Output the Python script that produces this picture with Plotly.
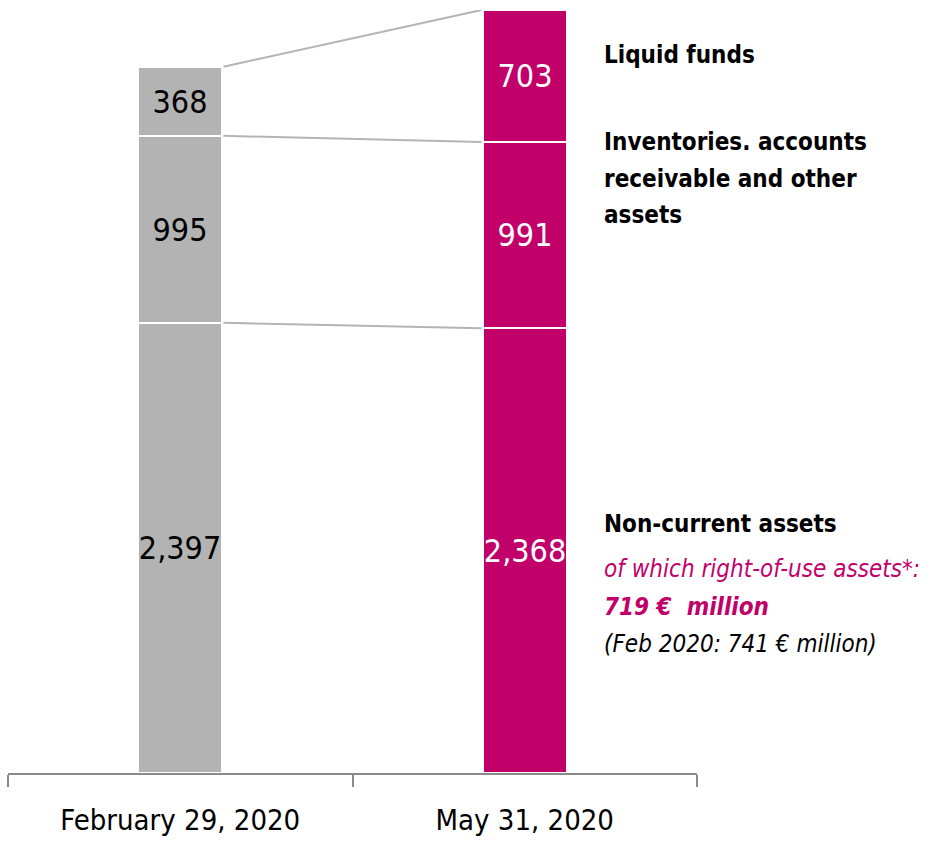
import plotly.graph_objects as go

categories = ["February 29, 2020", "May 31, 2020"]
non_current = [2397, 2368]
inventories = [995, 991]
liquid = [368, 703]

bar_colors = ["#b3b3b3", "#c2006a"]
text_colors = ["#000000", "#ffffff"]
FONT = "DejaVu Sans Condensed, Liberation Sans Narrow, sans-serif"
BAR_W = 0.245
MAGENTA = "#c2006a"

fig = go.Figure()
for vals in [non_current, inventories, liquid]:
    fig.add_trace(go.Bar(
        x=categories, y=vals, width=BAR_W,
        marker=dict(color=bar_colors, line=dict(color="white", width=2)),
        texttemplate="%{y:,}", textposition="inside", insidetextanchor="middle",
        constraintext="none", textangle=0,
        textfont=dict(family=FONT, size=32, color=text_colors),
        hoverinfo="skip", showlegend=False,
    ))

# connector lines between the stacked segment tops
levels_left, levels_right = [], []
c0 = c1 = 0
for vals in [non_current, inventories, liquid]:
    c0 += vals[0]; c1 += vals[1]
    levels_left.append(c0); levels_right.append(c1)
for a, b in zip(levels_left, levels_right):
    fig.add_shape(type="line", xref="x", yref="y",
                  x0=0 + BAR_W / 2 + 0.003, x1=1 - BAR_W / 2 - 0.003, y0=a, y1=b,
                  line=dict(color="#b4b4b4", width=2), layer="below")

PX = 763 / 4062.0
def ypx(p):
    return (773 - p) / PX

ann_x = 1.224
# (text, baseline pixel row)
lines = [
    ("<b>Liquid funds</b>", 63, "#000000"),
    ("<b>Inventories. accounts</b>", 150, "#000000"),
    ("<b>receivable and other</b>", 187, "#000000"),
    ("<b>assets</b>", 223, "#000000"),
    ("<b>Non-current assets</b>", 532, "#000000"),
    ("<i>of which right-of-use assets*:</i>", 577, MAGENTA),
    ("<i><b>719 €  million</b></i>", 615, MAGENTA),
    ("<i>(Feb 2020: 741 € million)</i>", 652, "#000000"),
]
for txt, base, col in lines:
    fig.add_annotation(x=ann_x, y=ypx(base - 8), xref="x", yref="y", text=txt,
                       showarrow=False, xanchor="left", yanchor="middle", align="left",
                       font=dict(family=FONT, size=24, color=col))

fig.update_layout(
    barmode="stack", bargap=0,
    width=941, height=844,
    margin=dict(l=8, r=244, t=10, b=71),
    paper_bgcolor="white", plot_bgcolor="white",
    font=dict(family=FONT, size=29, color="#000000"),
)
fig.update_xaxes(
    showline=True, linecolor="#8a8a8a", linewidth=2,
    ticks="outside", tickson="boundaries", ticklen=12, tickcolor="#8a8a8a", tickwidth=2,
    tickfont=dict(family=FONT, size=29, color="#000000"), ticklabelstandoff=20,
    range=[-0.5, 1.5], showgrid=False, zeroline=False,
)
fig.update_yaxes(range=[0, 4062], visible=False, showgrid=False, zeroline=False)

fig.write_html("out.html")
